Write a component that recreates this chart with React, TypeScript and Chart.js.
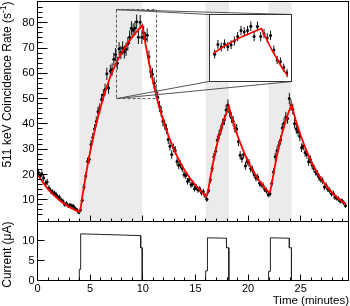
import React, { useEffect, useRef } from "react";
import { Chart, registerables } from "chart.js";

Chart.register(...registerables);

// ---------------- data ----------------
const BIN_MIN = 1 / 6; // 10-second bins, in minutes
const BIN_SEC = 10;

// 511 keV coincidence rate (s^-1), one value per 10-s bin
const rate = [
  20.8, 19.5, 20.2, 18.6, 16.4, 17.0, 14.6, 13.6, 13.0, 12.7, 12.1, 11.2, 10.9, 9.9, 9.4, 8.1, 8.6, 7.6, 7.9, 7.6, 7.4, 6.5, 6.0, 5.0,
  6.0, 9.8, 15.0, 19.4, 25.1, 26.0, 31.9, 34.6, 38.0, 40.9, 44.8, 46.0, 49.6, 51.4, 53.6, 59.8, 54.2, 60.9, 61.5, 65.6, 67.4, 64.0,
  69.7, 68.2, 70.0, 68.4, 69.5, 71.7, 74.3, 77.8, 77.0, 77.8, 80.4, 74.3, 80.2, 74.3,
  76.0, 73.5, 75.0, 66.5, 60.6, 59.6, 56.1, 53.0, 50.5, 46.9, 44.8, 41.0, 39.8, 37.9, 33.8, 31.2, 27.9, 30.5, 29.5, 25.1, 23.6, 24.0,
  22.4, 20.0, 19.6, 17.3, 18.0, 15.9, 16.3, 14.4, 14.9, 13.9, 14.3, 12.8, 13.2, 11.6,
  10.2, 13.6, 17.9, 22.4, 26.9, 29.2, 33.5, 35.7, 37.7, 40.1, 41.6, 45.5, 47.5,
  44.8, 42.5, 41.0, 38.4, 38.0, 33.0, 27.6, 26.3, 28.0, 23.4, 25.2, 24.6, 22.4, 21.9, 20.0, 18.6, 18.9, 16.6, 16.0, 15.6, 14.2, 13.6, 12.0,
  12.4, 16.4, 21.0, 27.0, 29.4, 31.5, 33.6, 38.4, 40.3, 42.7, 42.1, 50.0, 47.4,
  45.8, 40.2, 38.0, 36.9, 35.0, 30.6, 31.4, 28.7, 27.9, 25.0, 25.9, 23.6, 22.4, 21.0, 20.3, 18.8, 18.0, 17.5, 15.0, 15.6, 14.2, 13.7,
  12.4, 12.6, 11.0, 10.7, 10.3, 9.5, 9.6, 8.8, 7.6,
];

// fitted curve (red)
const fitTime = [
  0, 0.5, 1, 1.5, 2, 2.5, 3, 3.5, 3.97,
  4.1, 4.25, 4.5, 4.75, 5, 5.25, 5.5, 5.75, 6, 6.5, 7, 7.5, 8, 8.5, 9, 9.5, 9.95,
  10.5, 11, 11.5, 12, 12.5, 13, 13.5, 14, 14.5, 15, 15.5, 15.97,
  16.1, 16.25, 16.5, 16.75, 17, 17.25, 17.5, 17.75, 18, 18.17,
  18.5, 19, 19.5, 20, 20.5, 21, 21.5, 21.95,
  22.1, 22.25, 22.5, 22.75, 23, 23.25, 23.5, 23.75, 24, 24.12,
  24.5, 25, 25.5, 26, 26.5, 27, 27.5, 28, 28.5, 29, 29.3,
];
const fitRate = [
  20.0, 16.9, 14.2, 12.0, 10.1, 8.5, 7.2, 6.1, 5.2,
  6.8, 11.0, 17.5, 23.5, 29.0, 34.0, 38.6, 42.8, 46.8, 53.8, 59.6, 64.3, 68.2, 71.5, 74.4, 76.9, 79.0,
  66.0, 56.0, 47.6, 40.6, 34.6, 29.5, 25.2, 21.5, 18.4, 15.8, 13.5, 11.4,
  11.8, 14.8, 20.6, 26.2, 31.0, 35.2, 38.9, 42.0, 44.8, 46.8,
  41.8, 35.3, 29.8, 25.1, 21.2, 17.9, 15.1, 12.9,
  13.3, 16.3, 22.2, 27.6, 32.4, 36.6, 40.3, 43.5, 46.3, 47.6,
  41.8, 35.3, 29.8, 25.1, 21.2, 17.9, 15.1, 12.7, 10.7, 9.1, 8.2,
];

// beam current (uA)
const currentTime = [
  0, 3.97, 3.97, 4.1, 4.1, 6, 8, 9.8, 9.8, 9.95, 9.95,
  15.97, 15.97, 16.14, 16.14, 17.95, 17.95, 18.17, 18.17,
  21.95, 21.95, 22.12, 22.12, 23.92, 23.92, 24.12, 24.12, 29.3,
];
const currentValue = [
  0, 0, 2.8, 2.8, 11.7, 11.55, 11.4, 11.25, 8.2, 8.2, 0,
  0, 2.4, 2.4, 10.7, 10.6, 8.2, 8.2, 0,
  0, 2.3, 2.3, 10.7, 10.6, 8.2, 8.2, 0, 0,
];

// beam-on intervals (grey bands)
const beamStart = [3.97, 15.97, 21.95];
const beamEnd = [9.95, 18.17, 24.12];

// tick labels
const timeTicks = [0, 5, 10, 15, 20, 25];
const rateTicks = [10, 20, 30, 40, 50, 60, 70, 80];
const currentTicks = [0, 5, 10];

// ---------------- layout / style ----------------
const W = 350;
const H = 306;
const LEFT = 37.5;
const RIGHT = 348.5;
const TOP = 1.5;
const SPLIT = 221.5;
const BOTTOM = 280.5;
const X_MIN = 0;
const X_MAX = 29.3;
const RATE_MIN = 1.2;
const RATE_MAX = 87.4;
const CUR_MAX = 14.66;
const ZOOM_X0 = 7.5;
const ZOOM_X1 = 11.3;
const ZOOM_Y0 = 50;
const ZOOM_Y1 = 85.2;
const INSET_LEFT = 209;
const INSET_TOP = 14;
const INSET_W = 83;
const INSET_H = 68;
const FONT = '"Liberation Sans", Arial, Helvetica, sans-serif';
const SHADE = "#ebebeb";

const rateAxisMin = RATE_MIN - ((BOTTOM - SPLIT) * (RATE_MAX - RATE_MIN)) / (SPLIT - TOP);
const curAxisMax = (CUR_MAX * (BOTTOM - TOP)) / (BOTTOM - SPLIT);

function binTime(i: number) {
  return (i + 0.5) * BIN_MIN;
}
function buildPoints() {
  return rate.map((v, i) => ({ x: binTime(i), y: v }));
}
function buildErrorBars() {
  const out: any[] = [];
  rate.forEach((v, i) => {
    const e = Math.sqrt(v * BIN_SEC) / BIN_SEC;
    const t = binTime(i);
    out.push({ x: t, y: v - e }, { x: t, y: v + e }, { x: t, y: null });
  });
  return out;
}
function buildFit() {
  return fitTime.map((t, i) => ({ x: t, y: fitRate[i] }));
}
function buildCurrent() {
  return currentTime.map((t, i) => ({ x: t, y: currentValue[i] }));
}

function rateDatasets(pointR: number, fitW: number, clip: any) {
  return [
    {
      label: "fit",
      data: buildFit(),
      showLine: true,
      borderColor: "#ff0000",
      borderWidth: fitW,
      pointRadius: 0,
      tension: 0,
      yAxisID: "y",
      order: 0,
      clip,
    },
    {
      label: "rate",
      data: buildPoints(),
      showLine: false,
      pointRadius: pointR,
      pointBackgroundColor: "#000",
      pointBorderWidth: 0,
      yAxisID: "y",
      order: 1,
      clip,
    },
    {
      label: "err",
      data: buildErrorBars(),
      showLine: true,
      spanGaps: false,
      borderColor: "#111",
      borderWidth: 1,
      pointRadius: 0,
      yAxisID: "y",
      order: 2,
      clip,
    },
  ];
}

function drawRotated(ctx: any, parts: { text: string; size: number; dy: number }[], xc: number, yEnd: number) {
  ctx.save();
  let total = 0;
  const widths = parts.map((p) => {
    ctx.font = `${p.size}px ${FONT}`;
    const w = ctx.measureText(p.text).width;
    total += w;
    return w;
  });
  ctx.translate(xc, yEnd);
  ctx.rotate(-Math.PI / 2);
  ctx.textAlign = "left";
  ctx.textBaseline = "middle";
  let pos = -total;
  parts.forEach((p, i) => {
    ctx.font = `${p.size}px ${FONT}`;
    ctx.fillText(p.text, pos, p.dy);
    pos += widths[i];
  });
  ctx.restore();
}

const framePlugin = {
  id: "frame",
  beforeDatasetsDraw(chart: any) {
    const { ctx } = chart;
    const x = chart.scales.x;
    ctx.save();
    ctx.fillStyle = SHADE;
    beamStart.forEach((s, i) => {
      const x0 = x.getPixelForValue(s);
      const x1 = x.getPixelForValue(beamEnd[i]);
      ctx.fillRect(x0, TOP, x1 - x0, SPLIT - TOP);
    });
    ctx.restore();
  },
  afterDatasetsDraw(chart: any) {
    const { ctx } = chart;
    const { x, y, yc } = chart.scales;
    ctx.save();
    ctx.strokeStyle = "#000";
    ctx.lineWidth = 1;
    ctx.strokeRect(LEFT, TOP, RIGHT - LEFT, SPLIT - TOP);
    ctx.strokeRect(LEFT, SPLIT, RIGHT - LEFT, BOTTOM - SPLIT);
    ctx.beginPath();
    for (let m = X_MIN; m <= X_MAX; m += 1) {
      const px = Math.floor(x.getPixelForValue(m)) + 0.5;
      if (px <= LEFT + 1 || px >= RIGHT - 1) continue;
      const len = m % 5 === 0 ? 6 : 3;
      ctx.moveTo(px, SPLIT);
      ctx.lineTo(px, SPLIT - len);
      ctx.moveTo(px, BOTTOM);
      ctx.lineTo(px, BOTTOM - len);
    }
    for (let v = 2; v <= RATE_MAX; v += 2) {
      const py = Math.floor(y.getPixelForValue(v)) + 0.5;
      if (py >= SPLIT - 1 || py <= TOP + 1) continue;
      ctx.moveTo(LEFT, py);
      ctx.lineTo(LEFT + (v % 10 === 0 ? 10 : 5), py);
    }
    currentTicks.forEach((v) => {
      const py = Math.floor(yc.getPixelForValue(v)) + 0.5;
      if (py >= BOTTOM - 1) return;
      ctx.moveTo(LEFT, py);
      ctx.lineTo(LEFT + 7, py);
    });
    ctx.stroke();

    ctx.fillStyle = "#000";
    ctx.font = `11px ${FONT}`;
    ctx.textAlign = "right";
    ctx.textBaseline = "middle";
    rateTicks.forEach((v) => ctx.fillText(String(v), LEFT - 3, y.getPixelForValue(v)));
    currentTicks.forEach((v) => ctx.fillText(String(v), LEFT - 3, yc.getPixelForValue(v)));
    ctx.textAlign = "center";
    timeTicks.forEach((t) => ctx.fillText(String(t), x.getPixelForValue(t), BOTTOM + 8));

    ctx.font = `11.5px ${FONT}`;
    ctx.textAlign = "right";
    ctx.fillText("Time (minutes)", RIGHT + 0.5, 300.5);
    ctx.restore();

    drawRotated(
      ctx,
      [
        { text: "511 keV Coincidence Rate (s", size: 12, dy: 0 },
        { text: "-1", size: 8.5, dy: -4 },
        { text: ")", size: 12, dy: 0 },
      ],
      8,
      TOP
    );
    drawRotated(ctx, [{ text: "Current (\u03bcA)", size: 12, dy: 0 }], 8, SPLIT);
  },
  afterDraw(chart: any) {
    const { ctx } = chart;
    const { x, y } = chart.scales;
    const rx0 = x.getPixelForValue(ZOOM_X0);
    const rx1 = x.getPixelForValue(ZOOM_X1);
    const ryT = y.getPixelForValue(ZOOM_Y1);
    const ryB = y.getPixelForValue(ZOOM_Y0);
    ctx.save();
    ctx.strokeStyle = "#555";
    ctx.lineWidth = 1;
    ctx.setLineDash([3, 2]);
    ctx.strokeRect(rx0, ryT, rx1 - rx0, ryB - ryT);
    ctx.setLineDash([]);
    ctx.beginPath();
    ctx.moveTo(rx0, ryT);
    ctx.lineTo(INSET_LEFT, INSET_TOP + 0.5);
    ctx.moveTo(rx0, ryT);
    ctx.lineTo(INSET_LEFT + INSET_W, INSET_TOP + 0.5);
    ctx.moveTo(rx0, ryB);
    ctx.lineTo(INSET_LEFT, INSET_TOP + INSET_H - 0.5);
    ctx.moveTo(rx0, ryB);
    ctx.lineTo(INSET_LEFT + INSET_W, INSET_TOP + INSET_H - 0.5);
    ctx.stroke();
    ctx.restore();
  },
};

const insetPlugin = {
  id: "insetFrame",
  beforeDraw(chart: any) {
    const { ctx, width, height } = chart;
    ctx.save();
    ctx.fillStyle = "#fff";
    ctx.fillRect(0, 0, width, height);
    ctx.restore();
  },
  afterDraw(chart: any) {
    const { ctx, width, height } = chart;
    ctx.save();
    ctx.strokeStyle = "#333";
    ctx.lineWidth = 1;
    ctx.strokeRect(0.5, 0.5, width - 1, height - 1);
    ctx.restore();
  },
};

export default function App() {
  const mainRef = useRef<HTMLCanvasElement>(null);
  const insetRef = useRef<HTMLCanvasElement>(null);

  useEffect(() => {
    document.body.style.margin = "0";
    const main = new Chart(mainRef.current as HTMLCanvasElement, {
      type: "scatter",
      data: {
        datasets: [
          ...rateDatasets(1.5, 1.8, false),
          {
            label: "current",
            data: buildCurrent(),
            showLine: true,
            borderColor: "#222",
            borderWidth: 1,
            pointRadius: 0,
            tension: 0,
            yAxisID: "yc",
            order: 3,
          },
        ] as any,
      },
      options: {
        responsive: false,
        maintainAspectRatio: false,
        devicePixelRatio: 1,
        animation: false,
        events: [],
        layout: { padding: { left: LEFT, right: W - RIGHT, top: TOP, bottom: H - BOTTOM } },
        plugins: { legend: { display: false }, tooltip: { enabled: false }, title: { display: false } },
        scales: {
          x: { type: "linear", min: X_MIN, max: X_MAX, display: false },
          y: { type: "linear", min: rateAxisMin, max: RATE_MAX, display: false },
          yc: { type: "linear", min: 0, max: curAxisMax, display: false },
        },
      } as any,
      plugins: [framePlugin],
    });

    const inset = new Chart(insetRef.current as HTMLCanvasElement, {
      type: "scatter",
      data: { datasets: rateDatasets(1.5, 1.6, 0) as any },
      options: {
        responsive: false,
        maintainAspectRatio: false,
        devicePixelRatio: 1,
        animation: false,
        events: [],
        layout: { padding: 0 },
        plugins: { legend: { display: false }, tooltip: { enabled: false } },
        scales: {
          x: { type: "linear", min: ZOOM_X0, max: ZOOM_X1, display: false },
          y: { type: "linear", min: ZOOM_Y0, max: ZOOM_Y1, display: false },
        },
      } as any,
      plugins: [insetPlugin],
    });

    return () => {
      main.destroy();
      inset.destroy();
    };
  }, []);

  return (
    <div style={{ position: "relative", width: W, height: H, background: "#fff" }}>
      <canvas
        ref={mainRef}
        width={W}
        height={H}
        style={{ position: "absolute", left: 0, top: 0, width: W, height: H }}
      />
      <canvas
        ref={insetRef}
        width={INSET_W}
        height={INSET_H}
        style={{ position: "absolute", left: INSET_LEFT, top: INSET_TOP, width: INSET_W, height: INSET_H }}
      />
    </div>
  );
}
